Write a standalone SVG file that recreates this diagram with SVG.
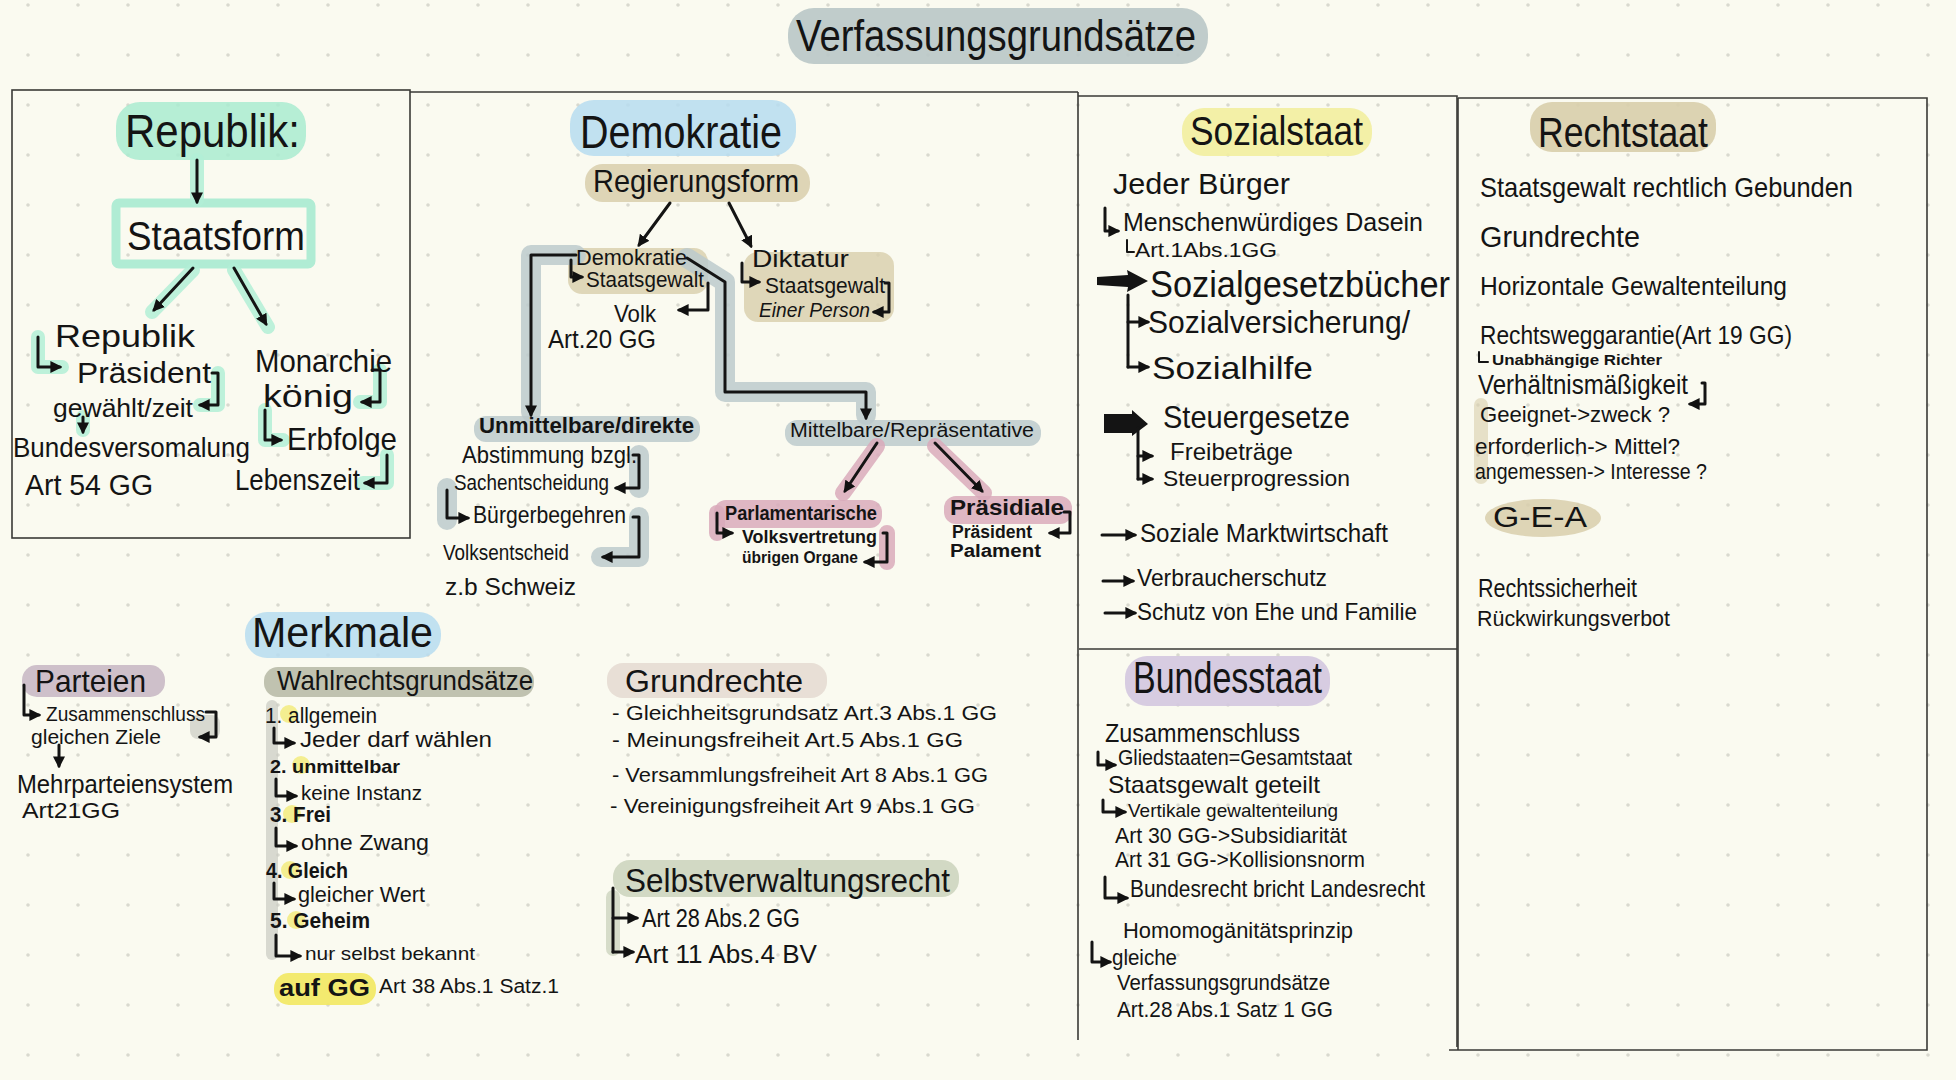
<svg xmlns="http://www.w3.org/2000/svg" width="1956" height="1080" viewBox="0 0 1956 1080">
<defs>
<pattern id="dots" width="50" height="50" patternUnits="userSpaceOnUse">
<circle cx="28" cy="5" r="1.8" fill="#d9d9cf"/>
</pattern>
<marker id="ah" viewBox="0 0 10 10" refX="8" refY="5" markerWidth="4" markerHeight="4" orient="auto" markerUnits="strokeWidth">
<path d="M0,0 L10,5 L0,10 z" fill="#111"/>
</marker>
<style>
text{font-family:"Liberation Sans","DejaVu Sans",Arial,sans-serif;fill:#141414}
.b{font-weight:bold}
.i{font-style:italic}
.ln{stroke:#141414;stroke-width:3;fill:none;stroke-linecap:round;stroke-linejoin:round}
.thin{stroke-width:2}
.ar{marker-end:url(#ah)}
.bd{stroke:#3a3a36;stroke-width:1.6;fill:none}
.hl{stroke-linecap:round;stroke-linejoin:round;fill:none;opacity:0.85}
.mint{fill:#a9ebd0}
.minth{stroke:#b2eed6}
.blue{fill:#b6dcf0}
.tan{fill:#d8ceab}
.grey{stroke:#bccacd}
.greyf{fill:#bccacd}
.mauve{fill:#d9aabb}
.mauveh{stroke:#d9aabb}
.yel{fill:#f2ee9f}
.blk{fill:#141414}
</style>
</defs>
<rect width="1956" height="1080" fill="#fafaf0"/>
<rect width="1956" height="1080" fill="url(#dots)"/>

<g id="borders">
<rect class="bd" x="12" y="90" width="398" height="448"/>
<path class="bd" d="M410,92 L1078,92 M1078,92 L1078,1040"/>
<path class="bd" d="M1078,96 L1457,96 L1457,1047 M1079,649 L1457,649"/>
<path class="bd" d="M1458,98 L1927,98 L1927,1050 L1449,1050 M1458,98 L1458,1050"/>
</g>

<g id="title">
<rect x="788" y="8" width="420" height="56" rx="26" fill="#b9c6c6" opacity="0.9"/>
<text x="796" y="51" font-size="44" textLength="400" lengthAdjust="spacingAndGlyphs">Verfassungsgrundsätze</text>
</g>

<g id="highlights">
<rect class="mint" x="116" y="102" width="190" height="58" rx="24" opacity="0.85"/>
<rect x="116" y="203" width="195" height="61" fill="none" stroke="#b0ecd4" stroke-width="9" rx="3"/>
<path class="hl minth" stroke-width="14" d="M197,160 L197,200 M193,270 L152,312 M234,270 L268,327 M38,337 L38,367 L62,367 M218,373 L218,405 L200,405 M380,370 L380,402 L360,402 M265,410 L265,440 L283,440 M387,455 L387,483 L363,483 M83,417 L83,430"/>
<rect class="blue" x="570" y="100" width="226" height="56" rx="24" opacity="0.85"/>
<rect class="tan" x="585" y="164" width="225" height="38" rx="18" opacity="0.85"/>
<rect class="tan" x="568" y="248" width="140" height="46" rx="14" opacity="0.8"/>
<rect class="tan" x="744" y="252" width="150" height="70" rx="14" opacity="0.8"/>
<path class="hl grey" stroke-width="20" d="M576,255 L531,255 L531,412 M687,258 L725,282 L725,392 L866,392 L866,415 M447,488 L447,520 M639,455 L639,488 M639,517 L639,557 L601,557"/>
<rect class="greyf" x="474" y="416" width="226" height="26" rx="12" opacity="0.85"/>
<rect class="greyf" x="785" y="420" width="256" height="26" rx="12" opacity="0.85"/>
<path class="hl mauveh" stroke-width="16" d="M877,446 L843,493 M935,446 L984,493 M717,513 L717,533 M887,533 L887,562"/>
<rect class="mauve" x="714" y="500" width="168" height="28" rx="12" opacity="0.85"/>
<rect class="mauve" x="944" y="496" width="128" height="28" rx="12" opacity="0.85"/>
<rect class="yel" x="1182" y="108" width="190" height="48" rx="22" opacity="0.9"/>
<rect class="tan" x="1530" y="102" width="186" height="50" rx="22" opacity="0.9"/>
<ellipse class="tan" cx="1543" cy="518" rx="58" ry="19" opacity="0.85"/>
<rect class="tan" x="1474" y="398" width="14" height="86" rx="7" opacity="0.6"/>
<rect x="1125" y="656" width="205" height="50" rx="22" fill="#d3c7df" opacity="0.9"/>
<rect class="blue" x="245" y="612" width="196" height="46" rx="22" opacity="0.85"/>
<rect x="22" y="665" width="143" height="32" rx="15" fill="#c9b9c5" opacity="0.9"/>
<rect x="264" y="667" width="270" height="30" rx="14" fill="#b9bba9" opacity="0.9"/>
<rect x="266" y="700" width="12" height="260" rx="6" fill="#c9cbc2" opacity="0.7"/>
<rect x="190" y="715" width="30" height="24" rx="8" fill="#c9cbc2" opacity="0.7"/>
<circle cx="289" cy="714" r="9" fill="#f4ee90"/>
<circle cx="301" cy="765" r="9" fill="#f4ee90"/>
<circle cx="292" cy="814" r="9" fill="#f4ee90"/>
<circle cx="290" cy="870" r="9" fill="#f4ee90"/>
<circle cx="296" cy="920" r="9" fill="#f4ee90"/>
<rect x="274" y="973" width="102" height="32" rx="15" fill="#f2e860" opacity="0.9"/>
<rect x="607" y="663" width="220" height="35" rx="16" fill="#e5dbd3" opacity="0.9"/>
<rect x="613" y="860" width="346" height="37" rx="17" fill="#cdd5bf" opacity="0.9"/>
<rect x="606" y="890" width="14" height="66" rx="7" fill="#cdd5bf" opacity="0.8"/>
</g>

<g id="connectors">
<path class="ln ar" d="M197,160 L197,202"/>
<path class="ln ar" d="M193,268 L154,310"/>
<path class="ln ar" d="M234,268 L266,324"/>
<path class="ln ar" d="M38,337 L38,367 L60,367"/>
<path class="ln ar" d="M212,373 L218,373 L218,405 L200,405"/>
<path class="ln ar" d="M83,417 L83,432"/>
<path class="ln ar" d="M372,370 L380,370 L380,402 L362,402"/>
<path class="ln ar" d="M265,410 L265,440 L281,440"/>
<path class="ln ar" d="M387,455 L387,483 L365,483"/>

<path class="ln ar" d="M670,203 L639,245"/>
<path class="ln ar" d="M729,203 L751,246"/>
<path class="ln ar" d="M571,260 L571,277 L582,277"/>
<path class="ln ar" d="M708,283 L708,310 L679,310"/>
<path class="ln ar" d="M742,263 L742,282 L759,282"/>
<path class="ln ar" d="M885,283 L889,283 L889,312 L874,312"/>
<path class="ln ar" d="M576,255 L531,255 L531,415"/>
<path class="ln ar" d="M687,258 L725,282 L725,392 L866,392 L866,418"/>
<path class="ln ar" d="M633,455 L639,455 L639,488 L616,488"/>
<path class="ln ar" d="M447,490 L447,518 L468,518"/>
<path class="ln ar" d="M633,517 L639,517 L639,557 L603,557"/>
<path class="ln ar" d="M877,443 L845,491"/>
<path class="ln ar" d="M935,443 L982,491"/>
<path class="ln ar" d="M717,513 L717,533 L732,533"/>
<path class="ln ar" d="M883,533 L887,533 L887,562 L865,562"/>
<path class="ln ar" d="M1064,512 L1070,512 L1070,533 L1050,533"/>

<path class="ln ar" d="M1105,208 L1105,231 L1118,231"/>
<path class="ln thin" d="M1127,240 L1127,252 L1134,252"/>
<path class="blk" d="M1097,277 L1128,275 L1127,270 L1148,281 L1127,292 L1128,287 L1097,285 z"/>
<path class="ln" d="M1128,295 L1128,367"/>
<path class="ln ar" d="M1128,322 L1148,322"/>
<path class="ln ar" d="M1128,367 L1148,367"/>
<path class="blk" d="M1104,414 L1132,414 L1132,410 L1148,424 L1132,436 L1132,433 L1104,433 z"/>
<path class="ln" d="M1138,428 L1138,479"/>
<path class="ln ar" d="M1138,456 L1152,456"/>
<path class="ln ar" d="M1138,479 L1152,479"/>
<path class="ln ar" d="M1102,535 L1135,535"/>
<path class="ln ar" d="M1103,581 L1133,581"/>
<path class="ln ar" d="M1105,613 L1135,613"/>

<path class="ln thin" d="M1479,352 L1479,362 L1488,362"/>
<path class="ln ar" d="M1702,383 L1705,383 L1705,404 L1690,404"/>

<path class="ln ar" d="M24,685 L24,715 L39,715"/>
<path class="ln ar" d="M206,712 L216,712 L216,737 L200,737"/>
<path class="ln ar" d="M59,745 L59,766"/>
<path class="ln ar" d="M274,728 L274,743 L294,743"/>
<path class="ln ar" d="M276,779 L276,796 L296,796"/>
<path class="ln ar" d="M276,828 L276,846 L296,846"/>
<path class="ln ar" d="M274,883 L274,899 L294,899"/>
<path class="ln ar" d="M276,935 L276,956 L300,956"/>

<path class="ln" d="M613,888 L613,952"/>
<path class="ln ar" d="M613,918 L637,918"/>
<path class="ln ar" d="M613,952 L633,952"/>

<path class="ln ar" d="M1098,752 L1098,765 L1115,765"/>
<path class="ln ar" d="M1103,800 L1103,812 L1125,812"/>
<path class="ln ar" d="M1105,877 L1105,898 L1127,898"/>
<path class="ln ar" d="M1092,942 L1092,962 L1110,962"/>
</g>

<g id="republik">
<text x="125" y="147" font-size="46" textLength="175" lengthAdjust="spacingAndGlyphs">Republik:</text>
</g>
<g id="staatsform">
<text x="127" y="250" font-size="40" textLength="178" lengthAdjust="spacingAndGlyphs">Staatsform</text>
</g>
<g id="republik-sub">
<text x="55" y="347" font-size="32" textLength="140" lengthAdjust="spacingAndGlyphs">Republik</text>
<text x="77" y="383" font-size="30" textLength="134" lengthAdjust="spacingAndGlyphs">Präsident</text>
<text x="53" y="417" font-size="26" textLength="140" lengthAdjust="spacingAndGlyphs">gewählt/zeit</text>
<text x="13" y="457" font-size="28" textLength="237" lengthAdjust="spacingAndGlyphs">Bundesversomalung</text>
<text x="25" y="495" font-size="30" textLength="128" lengthAdjust="spacingAndGlyphs">Art 54 GG</text>
</g>
<g id="monarchie">
<text x="255" y="372" font-size="32" textLength="137" lengthAdjust="spacingAndGlyphs">Monarchie</text>
<text x="263" y="407" font-size="32" textLength="90" lengthAdjust="spacingAndGlyphs">könig</text>
<text x="287" y="450" font-size="32" textLength="110" lengthAdjust="spacingAndGlyphs">Erbfolge</text>
<text x="235" y="490" font-size="30" textLength="125" lengthAdjust="spacingAndGlyphs">Lebenszeit</text>
</g>

<g id="demokratie">
<text x="580" y="148" font-size="46" textLength="202" lengthAdjust="spacingAndGlyphs">Demokratie</text>
</g>
<g id="regierungsform">
<text x="593" y="192" font-size="32" textLength="206" lengthAdjust="spacingAndGlyphs">Regierungsform</text>
</g>
<g id="demokratie-sub">
<text x="576" y="265" font-size="22" textLength="111" lengthAdjust="spacingAndGlyphs">Demokratie</text>
<text x="586" y="287" font-size="22" textLength="118" lengthAdjust="spacingAndGlyphs">Staatsgewalt</text>
<text x="614" y="322" font-size="24" textLength="42" lengthAdjust="spacingAndGlyphs">Volk</text>
<text x="548" y="348" font-size="26" textLength="108" lengthAdjust="spacingAndGlyphs">Art.20 GG</text>
</g>
<g id="diktatur">
<text x="752" y="267" font-size="24" textLength="97" lengthAdjust="spacingAndGlyphs">Diktatur</text>
<text x="765" y="293" font-size="22" textLength="120" lengthAdjust="spacingAndGlyphs">Staatsgewalt</text>
<text class="i" x="759" y="317" font-size="20" textLength="111" lengthAdjust="spacingAndGlyphs">Einer Person</text>
</g>
<g id="unmittelbare">
<text class="b" x="479" y="433" font-size="22" textLength="215" lengthAdjust="spacingAndGlyphs">Unmittelbare/direkte</text>
<text x="462" y="463" font-size="24" textLength="175" lengthAdjust="spacingAndGlyphs">Abstimmung bzgl.</text>
<text x="454" y="490" font-size="22" textLength="155" lengthAdjust="spacingAndGlyphs">Sachentscheidung</text>
<text x="473" y="523" font-size="24" textLength="153" lengthAdjust="spacingAndGlyphs">Bürgerbegehren</text>
<text x="443" y="560" font-size="22" textLength="126" lengthAdjust="spacingAndGlyphs">Volksentscheid</text>
<text x="445" y="595" font-size="24" textLength="131" lengthAdjust="spacingAndGlyphs">z.b Schweiz</text>
</g>
<g id="mittelbare">
<text x="790" y="437" font-size="20" textLength="244" lengthAdjust="spacingAndGlyphs">Mittelbare/Repräsentative</text>
</g>
<g id="parlamentarische">
<text class="b" x="725" y="520" font-size="20" textLength="152" lengthAdjust="spacingAndGlyphs">Parlamentarische</text>
<text class="b" x="742" y="543" font-size="18" textLength="135" lengthAdjust="spacingAndGlyphs">Volksvertretung</text>
<text class="b" x="742" y="563" font-size="16" textLength="116" lengthAdjust="spacingAndGlyphs">übrigen Organe</text>
</g>
<g id="praesidiale">
<text class="b" x="950" y="515" font-size="22" textLength="114" lengthAdjust="spacingAndGlyphs">Präsidiale</text>
<text class="b" x="952" y="538" font-size="18" textLength="80" lengthAdjust="spacingAndGlyphs">Präsident</text>
<text class="b" x="950" y="557" font-size="18" textLength="91" lengthAdjust="spacingAndGlyphs">Palament</text>
</g>

<g id="sozialstaat">
<text x="1190" y="145" font-size="40" textLength="173" lengthAdjust="spacingAndGlyphs">Sozialstaat</text>
<text x="1113" y="194" font-size="30" textLength="177" lengthAdjust="spacingAndGlyphs">Jeder Bürger</text>
<text x="1123" y="231" font-size="26" textLength="300" lengthAdjust="spacingAndGlyphs">Menschenwürdiges Dasein</text>
<text x="1135" y="257" font-size="20" textLength="142" lengthAdjust="spacingAndGlyphs">Art.1Abs.1GG</text>
<text x="1150" y="297" font-size="36" textLength="300" lengthAdjust="spacingAndGlyphs">Sozialgesetzbücher</text>
<text x="1148" y="333" font-size="32" textLength="262" lengthAdjust="spacingAndGlyphs">Sozialversicherung/</text>
<text x="1152" y="379" font-size="32" textLength="161" lengthAdjust="spacingAndGlyphs">Sozialhilfe</text>
<text x="1163" y="428" font-size="32" textLength="187" lengthAdjust="spacingAndGlyphs">Steuergesetze</text>
<text x="1170" y="460" font-size="24" textLength="123" lengthAdjust="spacingAndGlyphs">Freibeträge</text>
<text x="1163" y="486" font-size="22" textLength="187" lengthAdjust="spacingAndGlyphs">Steuerprogression</text>
<text x="1140" y="542" font-size="26" textLength="248" lengthAdjust="spacingAndGlyphs">Soziale Marktwirtschaft</text>
<text x="1137" y="586" font-size="24" textLength="190" lengthAdjust="spacingAndGlyphs">Verbraucherschutz</text>
<text x="1137" y="620" font-size="24" textLength="280" lengthAdjust="spacingAndGlyphs">Schutz von Ehe und Familie</text>
</g>

<g id="rechtsstaat">
<text x="1538" y="147" font-size="42" textLength="170" lengthAdjust="spacingAndGlyphs">Rechtstaat</text>
<text x="1480" y="197" font-size="28" textLength="373" lengthAdjust="spacingAndGlyphs">Staatsgewalt rechtlich Gebunden</text>
<text x="1480" y="247" font-size="30" textLength="160" lengthAdjust="spacingAndGlyphs">Grundrechte</text>
<text x="1480" y="295" font-size="26" textLength="307" lengthAdjust="spacingAndGlyphs">Horizontale Gewaltenteilung</text>
<text x="1480" y="344" font-size="26" textLength="312" lengthAdjust="spacingAndGlyphs">Rechtsweggarantie(Art 19 GG)</text>
<text class="b" x="1492" y="365" font-size="15" textLength="170" lengthAdjust="spacingAndGlyphs">Unabhängige Richter</text>
<text x="1478" y="394" font-size="28" textLength="210" lengthAdjust="spacingAndGlyphs">Verhältnismäßigkeit</text>
<text x="1480" y="422" font-size="22" textLength="190" lengthAdjust="spacingAndGlyphs">Geeignet-&gt;zweck ?</text>
<text x="1475" y="454" font-size="22" textLength="205" lengthAdjust="spacingAndGlyphs">erforderlich-&gt; Mittel?</text>
<text x="1475" y="479" font-size="22" textLength="232" lengthAdjust="spacingAndGlyphs">angemessen-&gt; Interesse ?</text>
<text x="1493" y="527" font-size="30" textLength="94" lengthAdjust="spacingAndGlyphs">G-E-A</text>
<text x="1478" y="597" font-size="26" textLength="159" lengthAdjust="spacingAndGlyphs">Rechtssicherheit</text>
<text x="1477" y="626" font-size="22" textLength="193" lengthAdjust="spacingAndGlyphs">Rückwirkungsverbot</text>
</g>

<g id="bundesstaat">
<text x="1133" y="693" font-size="44" textLength="189" lengthAdjust="spacingAndGlyphs">Bundesstaat</text>
<text x="1105" y="742" font-size="26" textLength="195" lengthAdjust="spacingAndGlyphs">Zusammenschluss</text>
<text x="1118" y="765" font-size="22" textLength="234" lengthAdjust="spacingAndGlyphs">Gliedstaaten=Gesamtstaat</text>
<text x="1108" y="793" font-size="24" textLength="212" lengthAdjust="spacingAndGlyphs">Staatsgewalt geteilt</text>
<text x="1128" y="817" font-size="19" textLength="210" lengthAdjust="spacingAndGlyphs">Vertikale gewaltenteilung</text>
<text x="1115" y="843" font-size="22" textLength="232" lengthAdjust="spacingAndGlyphs">Art 30 GG-&gt;Subsidiarität</text>
<text x="1115" y="867" font-size="22" textLength="250" lengthAdjust="spacingAndGlyphs">Art 31 GG-&gt;Kollisionsnorm</text>
<text x="1130" y="897" font-size="24" textLength="295" lengthAdjust="spacingAndGlyphs">Bundesrecht bricht Landesrecht</text>
<text x="1123" y="938" font-size="22" textLength="230" lengthAdjust="spacingAndGlyphs">Homomogänitätsprinzip</text>
<text x="1112" y="965" font-size="22" textLength="65" lengthAdjust="spacingAndGlyphs">gleiche</text>
<text x="1117" y="990" font-size="22" textLength="213" lengthAdjust="spacingAndGlyphs">Verfassungsgrundsätze</text>
<text x="1117" y="1017" font-size="22" textLength="216" lengthAdjust="spacingAndGlyphs">Art.28 Abs.1 Satz 1 GG</text>
</g>

<g id="merkmale">
<text x="252" y="647" font-size="42" textLength="181" lengthAdjust="spacingAndGlyphs">Merkmale</text>
</g>
<g id="parteien">
<text x="35" y="692" font-size="32" textLength="111" lengthAdjust="spacingAndGlyphs">Parteien</text>
<text x="46" y="721" font-size="20" textLength="159" lengthAdjust="spacingAndGlyphs">Zusammenschluss</text>
<text x="31" y="744" font-size="20" textLength="130" lengthAdjust="spacingAndGlyphs">gleichen Ziele</text>
<text x="17" y="793" font-size="26" textLength="216" lengthAdjust="spacingAndGlyphs">Mehrparteiensystem</text>
<text x="22" y="818" font-size="22" textLength="98" lengthAdjust="spacingAndGlyphs">Art21GG</text>
</g>
<g id="wahlrechtsgrundsaetze">
<text x="277" y="690" font-size="28" textLength="256" lengthAdjust="spacingAndGlyphs">Wahlrechtsgrundsätze</text>
<text x="265" y="723" font-size="22" textLength="112" lengthAdjust="spacingAndGlyphs">1. allgemein</text>
<text x="300" y="747" font-size="22" textLength="192" lengthAdjust="spacingAndGlyphs">Jeder darf wählen</text>
<text class="b" x="270" y="773" font-size="19" textLength="130" lengthAdjust="spacingAndGlyphs">2. unmittelbar</text>
<text x="301" y="800" font-size="20" textLength="121" lengthAdjust="spacingAndGlyphs">keine Instanz</text>
<text class="b" x="270" y="822" font-size="22" textLength="61" lengthAdjust="spacingAndGlyphs">3. Frei</text>
<text x="301" y="850" font-size="22" textLength="128" lengthAdjust="spacingAndGlyphs">ohne Zwang</text>
<text class="b" x="266" y="878" font-size="22" textLength="82" lengthAdjust="spacingAndGlyphs">4. Gleich</text>
<text x="298" y="902" font-size="22" textLength="127" lengthAdjust="spacingAndGlyphs">gleicher Wert</text>
<text class="b" x="270" y="928" font-size="22" textLength="100" lengthAdjust="spacingAndGlyphs">5. Geheim</text>
<text x="305" y="960" font-size="19" textLength="170" lengthAdjust="spacingAndGlyphs">nur selbst bekannt</text>
<text class="b" x="279" y="996" font-size="24" textLength="91" lengthAdjust="spacingAndGlyphs">auf GG</text>
<text x="379" y="993" font-size="20" textLength="180" lengthAdjust="spacingAndGlyphs">Art 38 Abs.1 Satz.1</text>
</g>
<g id="grundrechte">
<text x="625" y="692" font-size="32" textLength="178" lengthAdjust="spacingAndGlyphs">Grundrechte</text>
<text x="612" y="720" font-size="21" textLength="385" lengthAdjust="spacingAndGlyphs">- Gleichheitsgrundsatz Art.3 Abs.1 GG</text>
<text x="612" y="747" font-size="21" textLength="351" lengthAdjust="spacingAndGlyphs">- Meinungsfreiheit Art.5 Abs.1 GG</text>
<text x="612" y="782" font-size="21" textLength="376" lengthAdjust="spacingAndGlyphs">- Versammlungsfreiheit Art 8 Abs.1 GG</text>
<text x="610" y="813" font-size="21" textLength="365" lengthAdjust="spacingAndGlyphs">- Vereinigungsfreiheit Art 9 Abs.1 GG</text>
</g>
<g id="selbstverwaltungsrecht">
<text x="625" y="892" font-size="34" textLength="325" lengthAdjust="spacingAndGlyphs">Selbstverwaltungsrecht</text>
<text x="642" y="927" font-size="26" textLength="158" lengthAdjust="spacingAndGlyphs">Art 28 Abs.2 GG</text>
<text x="635" y="963" font-size="26" textLength="182" lengthAdjust="spacingAndGlyphs">Art 11 Abs.4 BV</text>
</g>
</svg>
